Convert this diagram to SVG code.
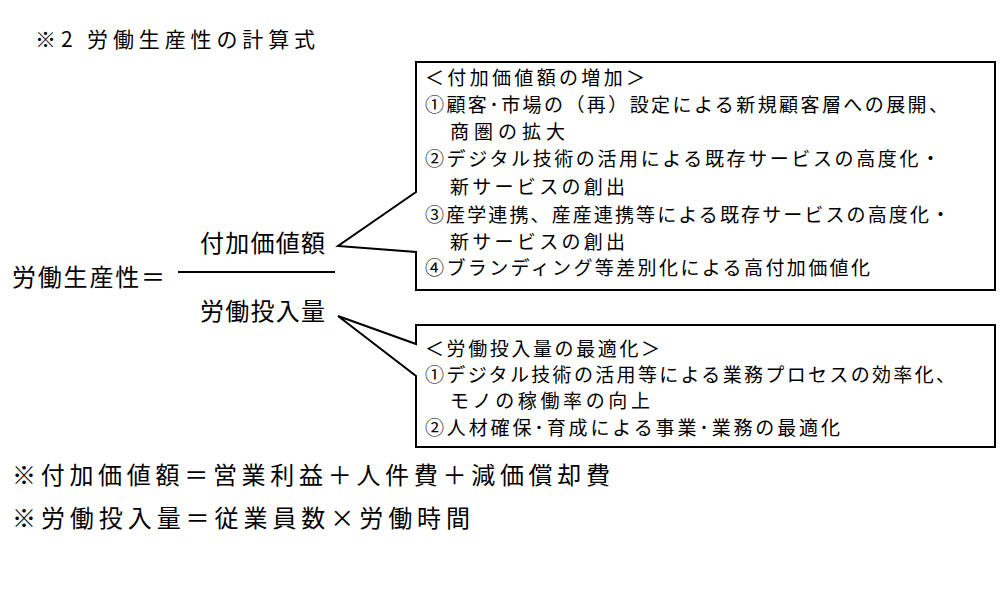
<svg xmlns="http://www.w3.org/2000/svg" width="1000" height="600" viewBox="0 0 1000 600">
<style>
text{font-family:"Noto Sans CJK JP","Noto Sans CJK SC",sans-serif;fill:#000}
.b{font-size:24px}.s{font-size:19px}.t{font-size:21px}
.box{fill:#fff;stroke:#000;stroke-width:2}
</style>
<rect width="1000" height="600" fill="#fff"/>
<text class="t" x="35" y="47" textLength="280">※2 労働生産性の計算式</text>
<g id="formula">
<text class="b" x="12" y="286" textLength="153">労働生産性＝</text>
<text class="b" x="200" y="252" textLength="125">付加価値額</text>
<line x1="178" y1="272" x2="335" y2="272" stroke="#000" stroke-width="2"/>
<text class="b" x="200" y="320" textLength="125">労働投入量</text>
</g>
<g id="box1">
<path class="box" d="M416,62 H995 V290 H416 V252 L338,246 L416,192 Z"/>
<text class="s" x="425" y="85" textLength="220">＜付加価値額の増加＞</text>
<text class="s" x="425" y="112" textLength="523">①顧客･市場の（再）設定による新規顧客層への展開、</text>
<text class="s" x="450" y="139" textLength="115">商圏の拡大</text>
<text class="s" x="425" y="166" textLength="515">②デジタル技術の活用による既存サービスの高度化・</text>
<text class="s" x="450" y="194" textLength="175">新サービスの創出</text>
<text class="s" x="425" y="222" textLength="525">③産学連携、産産連携等による既存サービスの高度化・</text>
<text class="s" x="450" y="249" textLength="175">新サービスの創出</text>
<text class="s" x="425" y="275" textLength="445">④ブランディング等差別化による高付加価値化</text>
</g>
<g id="box2">
<path class="box" d="M416,325 H995 V447 H416 V376 L338,316 L416,344 Z"/>
<text class="s" x="425" y="356" textLength="235">＜労働投入量の最適化＞</text>
<text class="s" x="425" y="382" textLength="530">①デジタル技術の活用等による業務プロセスの効率化、</text>
<text class="s" x="450" y="408" textLength="200">モノの稼働率の向上</text>
<text class="s" x="425" y="435" textLength="415">②人材確保･育成による事業･業務の最適化</text>
</g>
<g id="connectors"></g>
<text class="b" x="12" y="484" textLength="598">※付加価値額＝営業利益＋人件費＋減価償却費</text>
<text class="b" x="12" y="527" textLength="458">※労働投入量＝従業員数×労働時間</text>
</svg>
